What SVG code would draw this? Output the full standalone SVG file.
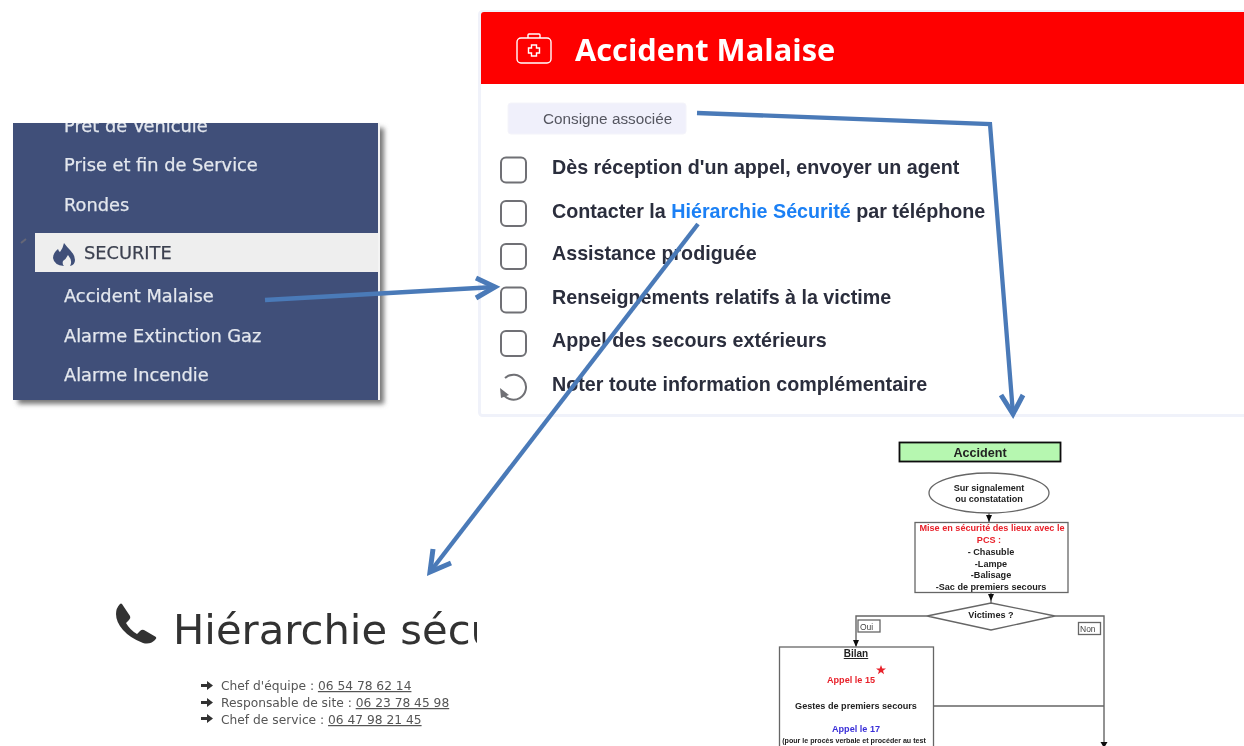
<svg xmlns="http://www.w3.org/2000/svg" width="1244" height="746" viewBox="0 0 1244 746">
<style>
.side{font-family:"DejaVu Sans",Verdana,sans-serif;font-size:17.8px;fill:#e4e7ee;stroke:#e4e7ee;stroke-width:.25}
.item{font-family:"Liberation Sans",Arial,sans-serif;font-size:19.7px;font-weight:700;fill:#2b2d3c}
.row{filter:url(#light)}
.cb{fill:#fff;stroke:#6f7074;stroke-width:2}
.hs{font-family:"DejaVu Sans",Verdana,sans-serif;font-size:12.25px;fill:#555}
.ph{text-decoration:underline}
.fc{font-family:"Liberation Sans",Arial,sans-serif;font-size:9.1px;font-weight:700;fill:#222;text-anchor:middle}
.fb{fill:#fff;stroke:#666;stroke-width:1.3}
.fl{fill:none;stroke:#666;stroke-width:1.400}
.fa{fill:#111}
.conn{fill:none;stroke:#4a7ab8;stroke-width:4.300}
.head{fill:none;stroke:#4a7ab8;stroke-width:5}
</style>
<defs>
<clipPath id="sideClip"><rect x="13" y="123" width="365" height="277"/></clipPath>
<clipPath id="hsClip"><rect x="100" y="590" width="377" height="70"/></clipPath>
<filter id="soft" x="-5%" y="-5%" width="110%" height="110%"><feGaussianBlur stdDeviation="0.6"/></filter>
<filter id="light" x="-5%" y="-20%" width="110%" height="140%"><feGaussianBlur stdDeviation="0.35"/></filter>
<filter id="shadow" x="-5%" y="-5%" width="110%" height="110%"><feGaussianBlur stdDeviation="2.5"/></filter>
</defs>
<rect width="1244" height="746" fill="#fff"/>

<g id="sidebar" filter="url(#light)">
<rect x="18" y="128" width="366" height="276" fill="#777" filter="url(#shadow)"/>
<rect x="13" y="123" width="365" height="277" fill="#3f5079"/>
<rect x="378" y="123" width="2" height="277" fill="#f4f4f4"/>
<g clip-path="url(#sideClip)">
<text class="side" x="64" y="132">Prêt de Véhicule</text>
<text class="side" x="64" y="171">Prise et fin de Service</text>
<text class="side" x="64" y="211">Rondes</text>
<rect x="35" y="233" width="343" height="39" fill="#eeeeee"/>
<path d="M64 243Q67 247 70 250Q75 255 75 260Q75 265 70 266Q73 261 68 255Q66 259 63 261Q62 264 64 266Q54 265 53 258Q53 253 58 249Q59 252 60 252Q63 248 64 243z" fill="#3f5079"/>
<text class="side" x="84" y="259" style="fill:#3c4150;stroke:#3c4150">SECURITE</text>
<text class="side" x="64" y="302">Accident Malaise</text>
<text class="side" x="64" y="342">Alarme Extinction Gaz</text>
<text class="side" x="64" y="381">Alarme Incendie</text>
</g>
<path d="M21 243l5-4" stroke="#667" stroke-width="2"/>
</g>

<g id="panel" filter="url(#light)">
<rect x="479.500" y="11.500" width="770" height="404" rx="3" fill="#fff" stroke="#f0f2fa" stroke-width="3"/>
<path d="M481 15q0-3 3-3H1244V84H481z" fill="#fe0000"/>
<g fill="none" stroke="#fff" stroke-width="1.400">
<rect x="517" y="38" width="34" height="25" rx="4"/>
<path d="M528 38v-3q0-1 1-1h10q1 0 1 1v3"/>
<path d="M531.500 45h5v3h3v5h-3v3h-5v-3h-3v-5h3z"/>
</g>
<text x="575" y="61" font-family="'Open Sans',sans-serif" font-weight="700" font-size="30.800" fill="#fff">Accident Malaise</text>
<rect x="508" y="103" width="178" height="31" rx="3" fill="#f0f0fb" stroke="#f4f4fa"/>
<text x="543" y="124" font-family="'Liberation Sans',Arial,sans-serif" font-size="15.300" fill="#555660">Consigne associée</text>
</g>

<g id="item1" class="row"><rect class="cb" x="501" y="157.500" width="25" height="25" rx="5"/><text class="item" x="552" y="174">Dès réception d'un appel, envoyer un agent</text></g>
<g id="item2" class="row"><rect class="cb" x="501" y="201" width="25" height="25" rx="5"/><text class="item" x="552" y="217.500">Contacter la <tspan fill="#1a80f5">Hiérarchie Sécurité</tspan> par téléphone</text></g>
<g id="item3" class="row"><rect class="cb" x="501" y="244" width="25" height="25" rx="5"/><text class="item" x="552" y="260">Assistance prodiguée</text></g>
<g id="item4" class="row"><rect class="cb" x="501" y="287.500" width="25" height="25" rx="5"/><text class="item" x="552" y="303.500">Renseignements relatifs à la victime</text></g>
<g id="item5" class="row"><rect class="cb" x="501" y="331" width="25" height="25" rx="5"/><text class="item" x="552" y="347">Appel des secours extérieurs</text></g>
<g id="item6" class="row"><path d="M505 378a12.500 12.500 0 1 1-3 14" fill="none" stroke="#6f7074" stroke-width="2"/><path d="M500 388l1 10 8-3z" fill="#6f7074"/><text class="item" x="552" y="391">Noter toute information complémentaire</text></g>

<g id="hierarchie" filter="url(#light)">
<path d="M122 604L130 616Q131 618 129 620L126 623Q130 630 137 634L140 631Q142 629 144 630L156 637Q157 638 155 640Q150 645 143 643Q130 638 123 630Q116 622 116 614Q116 608 120 604Q121 603 122 604z" fill="#333"/>
<g clip-path="url(#hsClip)"><text x="173" y="644" font-family="'DejaVu Sans',Verdana,sans-serif" font-size="41.700" fill="#333">Hiérarchie sécurité</text></g>
<g fill="#333">
<path d="M201 684h6v-3l6 4.500-6 4.500v-3h-6z"/>
<path d="M201 701h6v-3l6 4.500-6 4.500v-3h-6z"/>
<path d="M201 717h6v-3l6 4.500-6 4.500v-3h-6z"/>
</g>
<text class="hs" x="221" y="690">Chef d'équipe : <tspan class="ph">06 54 78 62 14</tspan></text>
<text class="hs" x="221" y="707">Responsable de site : <tspan class="ph">06 23 78 45 98</tspan></text>
<text class="hs" x="221" y="724">Chef de service : <tspan class="ph">06 47 98 21 45</tspan></text>
</g>

<g id="flowchart" filter="url(#soft)">
<g id="fc-accident"><rect x="899.500" y="442.500" width="161" height="19" fill="#b6f7b0" stroke="#111" stroke-width="1.800"/><text class="fc" x="980" y="456.500" style="font-size:12.6px">Accident</text></g>
<g id="fc-signal"><ellipse cx="989" cy="493" rx="60" ry="20" fill="#fff" stroke="#666" stroke-width="1.300"/><text class="fc" x="989" y="490.500">Sur signalement</text><text class="fc" x="989" y="501.500">ou constatation</text></g>
<g id="fc-mise"><rect class="fb" x="915" y="522.500" width="153" height="70"/>
<text class="fc" x="992" y="531" style="fill:#e8202a">Mise en sécurité des lieux avec le</text>
<text class="fc" x="989" y="543" style="fill:#e8202a">PCS :</text>
<text class="fc" x="991" y="555">- Chasuble</text>
<text class="fc" x="991" y="566.500">-Lampe</text>
<text class="fc" x="991" y="578">-Balisage</text>
<text class="fc" x="991" y="590">-Sac de premiers secours</text></g>
<g id="fc-victimes"><path class="fb" d="M927 616L991 603 1055 616 991 630z"/><text class="fc" x="991" y="618">Victimes ?</text></g>
<g id="fc-oui"><rect class="fb" x="858" y="620" width="22" height="12"/><text x="860" y="630" font-family="'Liberation Sans',sans-serif" font-size="8.500" fill="#444">Oui</text></g>
<g id="fc-non"><rect class="fb" x="1078.500" y="622.500" width="22" height="12"/><text x="1080" y="632" font-family="'Liberation Sans',sans-serif" font-size="8.500" fill="#444">Non</text></g>
<g id="fc-bilan"><rect class="fb" x="779.500" y="647" width="154" height="110"/>
<text class="fc" x="856" y="657" style="text-decoration:underline;font-size:10px">Bilan</text>
<text class="fc" x="851" y="683" style="fill:#e8202a">Appel le 15</text>
<path d="M881 665l1.300 3.500h3.700l-3 2.200 1.100 3.600-3.100-2.200-3.100 2.200 1.100-3.600-3-2.200h3.700z" fill="#e8202a"/>
<text class="fc" x="856" y="709">Gestes de premiers secours</text>
<text class="fc" x="856" y="732" style="fill:#3a2fd8">Appel le 17</text>
<text class="fc" x="854" y="743" style="font-size:7.100px">(pour le procès verbale et procéder au test</text></g>
<g id="fc-lines">
<path class="fl" d="M989 513V522M991 593V603M927 616H856V646M1055 616H1104V745M933 706H1104"/>
<path class="fa" d="M986 515h6l-3 7zM988 594h6l-3 7zM853 640h6l-3 7zM1100.500 742h7l-3.500 6z"/>
</g>
</g>

<g id="connectors">
<path class="conn" d="M265 300L495 287"/>
<path class="head" d="M476 278L495 287 476 298"/>
<path class="conn" d="M697 113L990 124 1013 414"/>
<path class="head" d="M1001 395L1013 414 1023 395"/>
<path class="conn" d="M698 224L430 572"/>
<path class="head" d="M433 549L430 572 451 563"/>
</g>
</svg>
